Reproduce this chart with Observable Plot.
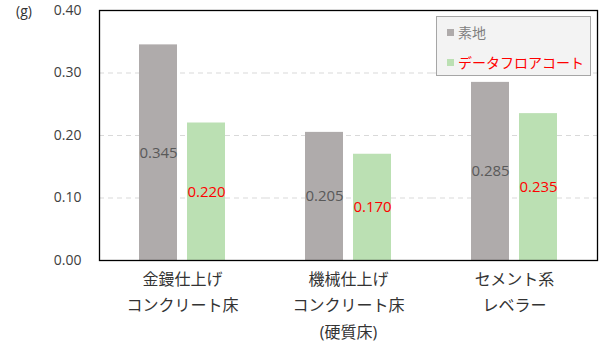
<!DOCTYPE html>
<html>
<head>
<meta charset="utf-8">
<script src="https://cdn.jsdelivr.net/npm/d3@7"></script>
<script src="https://cdn.jsdelivr.net/npm/@observablehq/plot@0.6"></script>
<style>
  html, body { margin: 0; padding: 0; background: #fff; }
  #wrap { position: relative; width: 600px; height: 343px; font-family: "Open Sans", "Noto Sans CJK JP", sans-serif; }
  #unit { position: absolute; left: 16px; top: 1px; font-size: 14px; color: #333; }
  #legend { position: absolute; left: 436px; top: 16px; width: 155px; height: 60px; background: #f3f3f3; border: 1px solid #a6a6a6; box-sizing: border-box; font-size: 14px; }
  #legend .item { position: absolute; left: 10px; display: flex; align-items: center; white-space: nowrap; }
  #legend .sw { width: 7px; height: 7px; margin-right: 4px; }
</style>
</head>
<body>
<div id="wrap">
  <div id="chart"></div>
  <div id="unit">(g)</div>
  <div id="legend"></div>
</div>
<script>
const categories = ["金鏝仕上げ\nコンクリート床", "機械仕上げ\nコンクリート床\n(硬質床)", "セメント系\nレベラー"];
const series = ["素地", "データフロアコート"];
const baseValues = [0.345, 0.205, 0.285];
const coatValues = [0.220, 0.170, 0.235];
const yTicks = [0, 0.1, 0.2, 0.3, 0.4];
const barColors = ["#AFABAB", "#BBE0B3"];
const labelColors = ["#595959", "#FF0000"];

const data = [];
categories.forEach((c, i) => {
  data.push({group: c, series: series[0], value: baseValues[i]});
  data.push({group: c, series: series[1], value: coatValues[i]});
});

const font = '"Open Sans", "Noto Sans CJK JP", sans-serif';

const chart = Plot.plot({
  width: 600,
  height: 343,
  marginTop: 10,
  marginBottom: 83,
  marginLeft: 98,
  marginRight: 3,
  style: {fontFamily: font, background: "#fff"},
  fx: {domain: categories, padding: 0, label: null, axis: null},
  x: {domain: series, paddingInner: 0.208, paddingOuter: 0.833, axis: null},
  y: {domain: [0, 0.4], ticks: yTicks, label: null},
  color: {domain: series, range: barColors},
  marks: [
    Plot.ruleY(yTicks.filter(t => t > 0 && t < 0.4), {stroke: "#d9d9d9", strokeDasharray: "5,4", strokeWidth: 1}),
    Plot.barY(data, {fx: "group", x: "series", y: "value", fill: "series"}),
    Plot.text(data, {
      fx: "group", x: "series", y: d => d.value / 2,
      text: d => d.value.toFixed(3),
      fill: d => labelColors[series.indexOf(d.series)],
      fontSize: 15
    }),
    Plot.axisY({ticks: yTicks, tickFormat: d => d.toFixed(2), tickSize: 0, tickPadding: 18, fontSize: 14, color: "#404040", label: null}),
    Plot.axisFx({anchor: "bottom", tickSize: 0, tickPadding: 5, fontSize: 16, lineHeight: 1.68, color: "#333", label: null}),
    Plot.frame({stroke: "#000", strokeWidth: 1.3, facet: "super"})
  ]
});
document.getElementById("chart").appendChild(chart);

const legend = document.getElementById("legend");
series.forEach((s, i) => {
  const item = document.createElement("div");
  item.className = "item";
  item.style.top = (i === 0 ? 5 : 35) + "px";
  item.style.color = i === 0 ? "#808080" : "#FF0000";
  const sw = document.createElement("span");
  sw.className = "sw";
  sw.style.background = barColors[i];
  const t = document.createElement("span");
  t.textContent = s;
  item.appendChild(sw);
  item.appendChild(t);
  legend.appendChild(item);
});
</script>
</body>
</html>
